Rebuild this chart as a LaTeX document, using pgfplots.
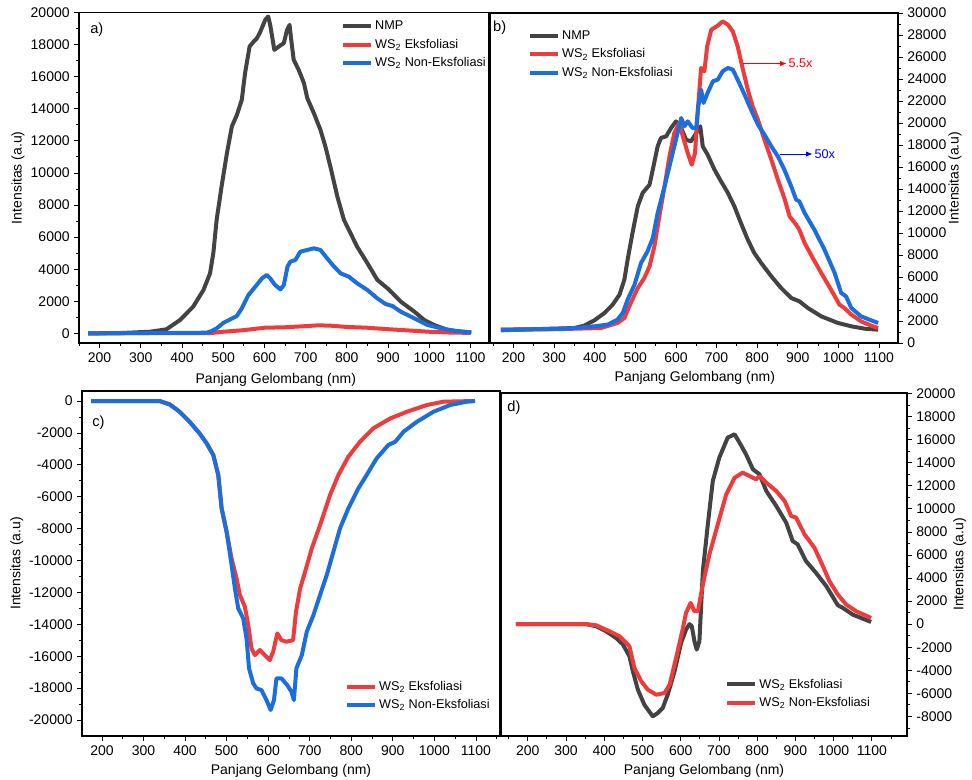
\documentclass[border=0pt]{standalone}
\usepackage{fontspec}
\setmainfont{Liberation Sans}
\usepackage{pgfplots}
\pgfplotsset{compat=1.18}
\usetikzlibrary{arrows.meta}

\definecolor{cgray}{HTML}{434343}
\definecolor{cred}{HTML}{EE3B3B}
\definecolor{cblue}{HTML}{1C6EDE}

\pgfplotsset{
  panel/.style={
    scale only axis,
    anchor=south west,
    axis line style={line width=0.8pt},
    tick style={line width=0.6pt, black},
    tick align=outside,
    major tick length=3.5pt,
    minor tick length=2pt,
    xtick={200,300,...,1100},
    minor xtick={150,250,...,1150},
    scaled y ticks=false,
    /pgf/number format/assume math mode=true,
    /pgf/number format/set thousands separator={},
    tick label style={font=\fontsize{10.5}{12}\selectfont},
    label style={font=\fontsize{10.5}{12}\selectfont},
    xlabel={Panjang Gelombang (nm)},
    ylabel={Intensitas (a.u)},
    legend cell align=left,
    legend style={draw=none, fill=none, font=\fontsize{9.5}{11}\selectfont,
      row sep=1.5pt, inner sep=0pt, anchor=north west},
    legend image code/.code={\draw[##1] (0cm,0cm) -- (0.72cm,0cm);},
    every axis plot/.append style={line width=3pt, line join=round, no markers},
  },
}
\tikzset{plabel/.style={font=\fontsize{11}{13}\selectfont, anchor=west, inner sep=0pt}}

\begin{document}
\begin{tikzpicture}
\useasboundingbox (0,0) rectangle (729pt,585pt);

% ---------------- a) ----------------
\begin{axis}[panel, at={(59.25pt,327.75pt)}, width=307.5pt, height=247.875pt,
  xmin=150, xmax=1145, ymin=-600, ymax=20000,
  ytick={0,2000,...,20000}, minor y tick num=1,
  xtick pos=bottom, ytick pos=left,
  xlabel style={at={(axis description cs:0.48,-0.112)}, anchor=center},
  ylabel style={at={(axis description cs:-0.149,0.5)}, anchor=center},
  legend style={at={(axis description cs:0.639,0.983)}},
]
\addplot[cgray] coordinates {(172,0)(250,20)(322,100)(362,250)(395,830)(427,1660)(452,2700)(468,3740)(476,5000)(484,7070)(496,9150)(509,11230)(521,12900)(533,13600)(545,14550)(553,16220)(564,17880)(574,18190)(582,18400)(590,18800)(602,19540)(609,19750)(614,19230)(624,17670)(635,17880)(647,18090)(655,18920)(661,19230)(665,18300)(671,17050)(683,16430)(696,15590)(704,14660)(720,13720)(736,12680)(748,11640)(760,10400)(777,8520)(793,7070)(805,6450)(825,5400)(850,4370)(874,3330)(899,2800)(911,2500)(931,1975)(964,1350)(988,830)(1012,520)(1045,210)(1077,100)(1102,60)};
\addplot[cred] coordinates {(172,0)(300,10)(470,20)(500,100)(550,200)(600,350)(650,380)(700,450)(730,500)(760,480)(800,400)(850,350)(900,260)(950,180)(1000,100)(1050,50)(1100,30)};
\addplot[cblue] coordinates {(172,0)(300,20)(460,40)(472,150)(484,310)(501,665)(517,870)(533,1080)(545,1560)(561,2390)(578,2910)(594,3430)(606,3640)(614,3430)(626,3010)(639,2740)(647,3010)(656,4160)(663,4470)(675,4570)(687,5090)(704,5200)(720,5300)(736,5200)(752,4680)(769,4160)(785,3740)(805,3530)(825,3120)(850,2700)(874,2180)(894,1830)(911,1700)(931,1350)(964,935)(996,520)(1029,310)(1061,165)(1102,60)};
\legend{NMP, WS\textsubscript{2} Eksfoliasi, WS\textsubscript{2} Non-Eksfoliasi}
\node[plabel] at (rel axis cs:0.027,0.947) {a)};
\end{axis}

% ---------------- b) ----------------
\begin{axis}[panel, at={(367.5pt,327.75pt)}, width=306pt, height=247.5pt,
  xmin=142, xmax=1147, ymin=0, ymax=30000,
  ytick={0,2000,...,30000}, minor y tick num=1,
  xtick pos=bottom, ytick pos=right, yticklabel pos=right,
  xlabel style={at={(axis description cs:0.502,-0.105)}, anchor=center},
  ylabel style={at={(axis description cs:1.140,0.5)}, anchor=center},
  legend style={at={(axis description cs:0.093,0.955)}},
]
\addplot[cgray] coordinates {(169,1210)(250,1250)(350,1360)(374,1575)(399,2060)(424,2730)(444,3480)(461,4390)(473,5760)(481,7575)(493,10000)(506,12420)(518,13640)(535,14390)(543,15760)(555,17880)(563,18640)(576,18790)(588,19540)(600,20150)(613,19540)(625,18480)(637,18330)(650,19090)(660,19700)(666,17880)(678,17120)(695,15760)(711,14700)(728,13640)(744,12420)(760,10910)(777,9390)(793,8180)(810,7270)(835,6060)(859,5000)(884,4090)(904,3790)(925,3180)(958,2420)(999,1820)(1032,1515)(1065,1300)(1098,1210)};
\addplot[cred] coordinates {(169,1210)(300,1250)(415,1360)(456,1820)(473,2270)(485,3330)(506,5000)(522,5900)(535,6970)(547,8790)(559,11500)(572,14240)(584,16970)(596,19090)(608,20000)(617,18790)(629,17270)(639,16210)(647,17270)(654,21210)(662,25000)(670,24700)(677,26970)(687,28480)(703,28850)(715,29240)(728,28940)(740,28330)(752,26970)(765,24850)(777,23030)(789,21510)(802,20300)(818,18480)(835,16670)(851,14850)(867,13180)(880,11510)(896,10760)(904,10300)(917,9090)(937,7730)(958,6360)(982,4850)(1003,3480)(1015,3180)(1032,2580)(1056,1970)(1081,1575)(1098,1360)};
\addplot[cblue] coordinates {(169,1150)(250,1250)(330,1300)(399,1515)(432,1670)(456,2120)(469,2730)(481,3940)(498,5300)(514,7270)(530,8330)(543,9540)(555,11820)(572,14240)(588,16670)(600,18480)(613,20450)(621,19700)(629,20150)(641,19540)(650,19540)(655,21510)(662,23030)(668,21820)(678,22730)(691,23790)(703,23940)(715,24700)(728,25000)(740,24850)(752,23940)(769,22580)(785,21210)(802,19850)(818,18940)(835,17880)(851,16970)(867,15760)(884,14240)(896,13030)(904,12880)(917,11820)(941,10300)(966,8480)(991,6360)(1007,4550)(1019,4240)(1032,3180)(1056,2420)(1081,2060)(1098,1820)};
\legend{NMP, WS\textsubscript{2} Eksfoliasi, WS\textsubscript{2} Non-Eksfoliasi}
\node[plabel] at (rel axis cs:0.007,0.955) {b)};
\draw[red, line width=0.7pt, -{Latex[length=5pt,width=4pt]}] (axis cs:765,25400) -- (axis cs:873,25400)
  node[right, inner sep=1pt, font=\fontsize{9.5}{11}\selectfont] {5.5x};
\draw[blue, line width=0.7pt, -{Latex[length=5pt,width=4pt]}] (axis cs:856,17180) -- (axis cs:937,17180)
  node[right, inner sep=1pt, font=\fontsize{9.5}{11}\selectfont] {50x};
\end{axis}

% ---------------- c) ----------------
\begin{axis}[panel, at={(61.5pt,33pt)}, width=313.5pt, height=258.75pt,
  xmin=152, xmax=1158, ymin=-21000, ymax=630,
  ytick={-20000,-18000,...,0}, minor y tick num=1,
  xtick pos=bottom, ytick pos=left,
  xlabel style={at={(axis description cs:0.5,-0.101)}, anchor=center},
  ylabel style={at={(axis description cs:-0.156,0.5)}, anchor=center},
  legend style={at={(axis description cs:0.629,0.168)}},
]
\addplot[cred] coordinates {(174,0)(339,0)(363,-210)(387,-670)(411,-1300)(435,-2030)(452,-2650)(468,-3390)(480,-4640)(488,-6730)(500,-8190)(512,-9860)(524,-11120)(532,-12160)(544,-12900)(552,-14040)(560,-15510)(568,-15930)(580,-15610)(592,-15930)(604,-16240)(612,-15720)(622,-14570)(632,-14990)(644,-15090)(660,-14990)(667,-13210)(677,-11750)(689,-10700)(705,-9240)(725,-7770)(749,-5890)(769,-4640)(793,-3490)(821,-2550)(853,-1710)(894,-1090)(934,-670)(982,-250)(1022,-40)(1094,0)};
\addplot[cblue] coordinates {(174,0)(339,0)(363,-210)(387,-670)(411,-1300)(435,-2030)(452,-2650)(468,-3390)(480,-4640)(488,-6730)(500,-8190)(512,-10280)(520,-11750)(528,-13000)(540,-13630)(548,-14880)(554,-16760)(564,-17700)(572,-18020)(584,-18120)(596,-18750)(606,-19370)(614,-18750)(620,-17390)(632,-17390)(646,-17810)(656,-18220)(662,-18750)(668,-16760)(681,-15930)(693,-14460)(709,-13420)(725,-12160)(741,-10910)(757,-9450)(773,-7980)(793,-6730)(817,-5480)(837,-4640)(861,-3600)(889,-2760)(906,-2550)(926,-1920)(958,-1300)(998,-670)(1038,-250)(1078,-40)(1098,0)};
\legend{WS\textsubscript{2} Eksfoliasi, WS\textsubscript{2} Non-Eksfoliasi}
\node[plabel] at (rel axis cs:0.024,0.907) {c)};
\end{axis}

% ---------------- d) ----------------
\begin{axis}[panel, at={(375.75pt,33pt)}, width=304.5pt, height=257.25pt,
  xmin=130, xmax=1192, ymin=-9700, ymax=20050,
  ytick={-8000,-6000,...,20000}, minor ytick={-9000,-7000,...,19000},
  xtick pos=bottom, ytick pos=right, yticklabel pos=right,
  xlabel style={at={(axis description cs:0.5,-0.102)}, anchor=center},
  ylabel style={at={(axis description cs:1.13,0.5)}, anchor=center},
  legend style={at={(axis description cs:0.552,0.175)}},
]
\addplot[cgray] coordinates {(169,0)(353,0)(379,-180)(405,-620)(431,-1200)(449,-1770)(466,-2790)(475,-4090)(488,-5680)(505,-6990)(527,-8000)(540,-7710)(553,-7280)(566,-6120)(584,-4090)(601,-1630)(614,-470)(623,0)(629,-180)(636,-1480)(642,-2210)(649,-1480)(658,4600)(671,8650)(684,12410)(701,14440)(723,16180)(741,16470)(754,15740)(771,14730)(789,13430)(806,13000)(824,11550)(850,10250)(876,8800)(893,7210)(906,6920)(928,5460)(954,4450)(981,3290)(1011,1640)(1024,1410)(1050,830)(1098,190)};
\addplot[cred] coordinates {(169,0)(353,0)(379,-100)(414,-620)(440,-1050)(466,-1920)(479,-3800)(497,-4960)(514,-5680)(536,-6120)(558,-5970)(571,-5250)(588,-2930)(606,-330)(614,980)(626,1840)(636,1120)(645,1120)(658,3440)(675,6040)(697,8650)(719,11250)(741,12700)(762,13140)(780,12850)(797,12560)(806,12850)(824,12270)(850,11550)(872,10680)(889,9380)(902,9240)(924,7790)(950,6620)(972,5030)(989,3730)(1011,2570)(1033,1700)(1059,1120)(1098,540)};
\legend{WS\textsubscript{2} Eksfoliasi, WS\textsubscript{2} Non-Eksfoliasi}
\node[plabel] at (rel axis cs:0.015,0.956) {d)};
\end{axis}
\end{tikzpicture}
\end{document}
